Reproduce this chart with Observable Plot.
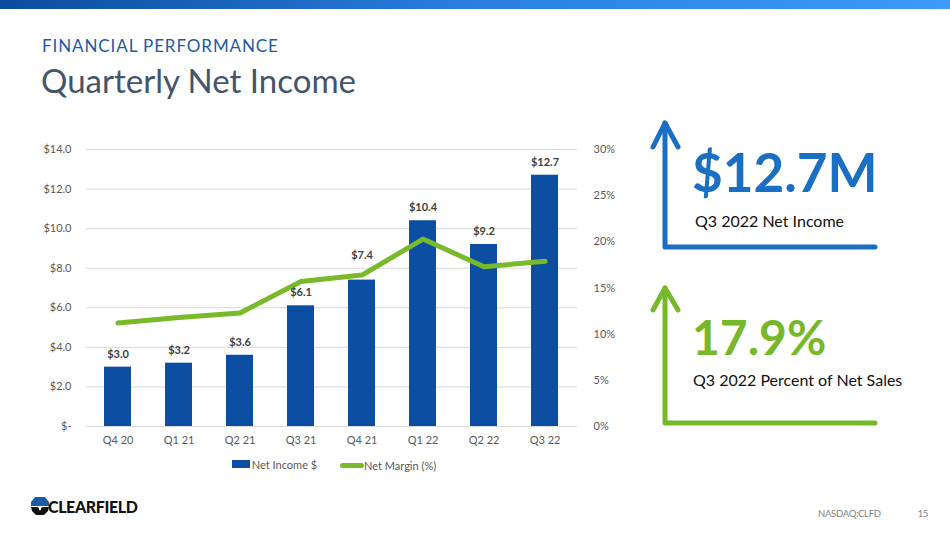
<!DOCTYPE html>
<html>
<head>
<meta charset="utf-8">
<script src="https://cdn.jsdelivr.net/npm/d3@7"></script>
<script src="https://cdn.jsdelivr.net/npm/@observablehq/plot@0.6"></script>
<style>
  html, body { margin: 0; padding: 0; background: #fff; }
  #page { position: relative; width: 950px; height: 534px; overflow: hidden; font-family: Lato, "Open Sans", sans-serif; }
  #topbar { position: absolute; left: 0; top: 0; width: 950px; height: 9px; background: linear-gradient(to right, #0b4c9c, #2a7fe0 50%, #3d9af8); }
  .abs { position: absolute; white-space: nowrap; }
  #kicker { left: 42px; top: 35px; font-size: 17px; color: #1d5aa6; letter-spacing: 0.9px; }
  #title { left: 41px; top: 60px; font-size: 33px; color: #44546a; }
  #chart { position: absolute; left: 0; top: 130px; }
  #legend { left: 0; top: 457px; width: 668px; text-align: center; font-size: 11px; color: #595959; }
  #legend span.item { display: inline-flex; align-items: center; margin: 0 10px; }
  .sw-bar { display: inline-block; width: 18px; height: 8px; background: #0b4ea2; margin-right: 2px; }
  .sw-line { display: inline-block; width: 24px; height: 5px; border-radius: 3px; background: #7ab929; margin-right: 0px; }
  .big { font-weight: 700; }
  #footer-right { left: 818px; top: 508px; font-size: 9.5px; color: #7f7f7f; letter-spacing: -0.3px; }
</style>
</head>
<body>
<div id="page">
  <div id="topbar"></div>
  <div id="kicker" class="abs">FINANCIAL PERFORMANCE</div>
  <div id="title" class="abs">Quarterly Net Income</div>
  <div id="chart"></div>
  <div id="legend" class="abs">
    <span class="item"><span class="sw-bar"></span>Net Income $</span>
    <span class="item"><span class="sw-line"></span>Net Margin (%)</span>
  </div>

  <svg class="abs" style="left:640px; top:110px;" width="300" height="330">
    <g fill="none" stroke-linecap="round" stroke-linejoin="round" stroke-width="5">
      <path d="M25,13 L25,137 L235,137" stroke="#1a6fc2"/>
      <path d="M13,37 L25,13 L38,37" stroke="#1a6fc2"/>
      <path d="M25,178 L25,313 L235,313" stroke="#77b82a"/>
      <path d="M13,200 L25,178 L38,200" stroke="#77b82a"/>
    </g>
  </svg>
  <div class="abs big" style="left:692px; top:140px; font-size:53px; color:#1a6fc2;">$12.7M</div>
  <div class="abs" style="left:695px; top:211px; font-size:16px; color:#111;">Q3 2022 Net Income</div>
  <div class="abs big" style="left:692px; top:308px; font-size:48px; color:#77b82a;">17.9%</div>
  <div class="abs" style="left:693px; top:370px; font-size:16px; color:#111;">Q3 2022 Percent of Net Sales</div>

  <svg class="abs" style="left:30px; top:496px;" width="20" height="20" viewBox="0 0 20 20">
    <path d="M5,1 L15,1 L19,6 L19,10 L1,10 L1,6 Z" fill="#1d5aa6"/>
    <path d="M1,11 L8,11 L10,15 L12,11 L19,11 L18,15 L14,19 L6,19 L2,15 Z" fill="#111"/>
  </svg>
  <div class="abs" style="left:48px; top:496px; font-size:17px; font-weight:900; color:#111; letter-spacing:-0.4px; transform:scaleX(0.94); transform-origin:left;">CLEARFIELD</div>
  <div id="footer-right" class="abs">NASDAQ:CLFD<span style="margin-left:37px;">15</span></div>
</div>

<script>
const quarters = ["Q4 20", "Q1 21", "Q2 21", "Q3 21", "Q4 21", "Q1 22", "Q2 22", "Q3 22"];
const netIncome = [3.0, 3.2, 3.6, 6.1, 7.4, 10.4, 9.2, 12.7];
const netMargin = [11.2, 11.8, 12.3, 15.7, 16.4, 20.3, 17.3, 17.9];
const incomeTicks = [0, 2, 4, 6, 8, 10, 12, 14];
const marginTicks = [0, 5, 10, 15, 20, 25, 30];
const incomeMax = 14;
const marginMax = 30;

const toIncome = m => m * incomeMax / marginMax;
const rows = quarters.map((q, i) => ({ q, income: netIncome[i], margin: netMargin[i], marginScaled: toIncome(netMargin[i]) }));
// a label sits higher when the margin line passes just above its bar
const clashes = d => d.marginScaled - d.income > 0 && d.marginScaled - d.income < 0.8;
const labelText = d => "$" + d.income.toFixed(1);

const chart = Plot.plot({
  width: 640,
  height: 330,
  marginLeft: 86,
  marginRight: 63,
  marginTop: 19,
  marginBottom: 34,
  style: { fontFamily: "Lato, 'Open Sans', sans-serif", fontSize: "11px", color: "#595959", background: "transparent" },
  x: { domain: quarters, paddingInner: 0.55, paddingOuter: 0.275, label: null },
  y: { domain: [0, incomeMax], label: null },
  marks: [
    Plot.gridY(incomeTicks, { stroke: "#d9d9d9", strokeOpacity: 1, strokeWidth: 1 }),
    Plot.barY(rows, { x: "q", y: "income", fill: "#0b4ea2" }),
    Plot.line(rows, { x: "q", y: "marginScaled", stroke: "#7ab929", strokeWidth: 5, strokeLinejoin: "round", strokeLinecap: "round" }),
    Plot.text(rows.filter(d => !clashes(d)), { x: "q", y: "income", text: labelText, dy: -13, fontWeight: "bold", fill: "#404040", fontSize: 11 }),
    Plot.text(rows.filter(clashes), { x: "q", y: "income", text: labelText, dy: -25, fontWeight: "bold", fill: "#404040", fontSize: 11 }),
    Plot.axisY(incomeTicks, { anchor: "left", tickSize: 0, tickPadding: 15, tickFormat: d => d === 0 ? "$-" : "$" + d.toFixed(1), label: null }),
    Plot.axisY(marginTicks.map(toIncome), { anchor: "right", tickSize: 0, tickPadding: 16, tickFormat: d => Math.round(d * marginMax / incomeMax) + "%", label: null }),
    Plot.axisX({ tickSize: 0, tickPadding: 10, label: null })
  ]
});
document.getElementById("chart").appendChild(chart);
</script>
</body>
</html>
